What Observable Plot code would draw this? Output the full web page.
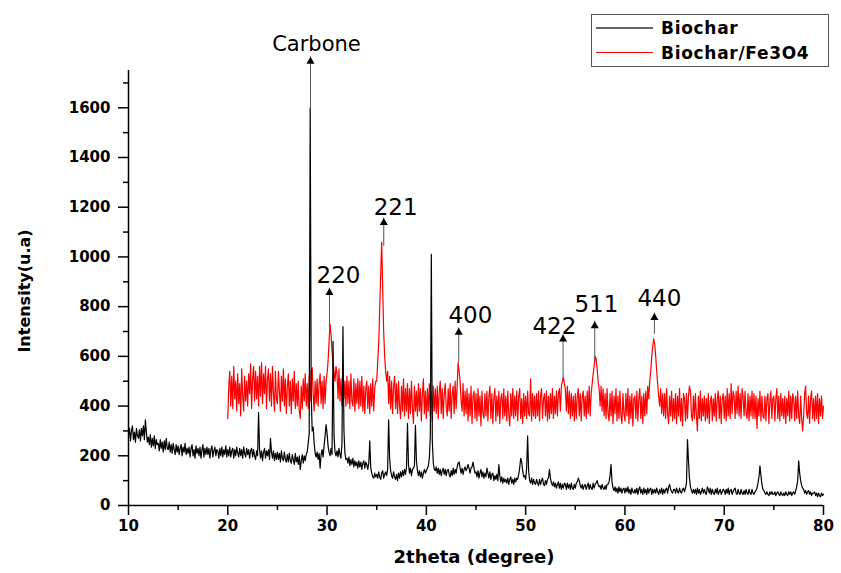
<!DOCTYPE html>
<html>
<head>
<meta charset="utf-8">
<script src="https://cdn.jsdelivr.net/npm/d3@7"></script>
<script src="https://cdn.jsdelivr.net/npm/@observablehq/plot@0.6"></script>
<style>
  html, body { margin: 0; padding: 0; background: #fff; }
  #wrap { position: relative; width: 841px; height: 573px; overflow: hidden; }
  .legend { position: absolute; left: 591px; top: 14px; width: 236px; height: 51px;
    border: 1px solid #555; background: #fff; font: bold 17px "DejaVu Sans", sans-serif;
    letter-spacing: 0.7px; color: #000; }
  .legend .row { display: flex; align-items: center; height: 25px; }
  .legend .sw { display: inline-block; width: 57px; margin-left: 4px; margin-right: 8px; height: 0; }
</style>
</head>
<body>
<div id="wrap"><div id="chart"></div></div>
<script>
// ---------- data ----------
const seriesNames = ["Biochar", "Biochar/Fe3O4"];
const seriesColors = ["#000000", "#ff0000"];
const legendColors = ["#666666", "#ff0000"];

const xMajorTicks = [10, 20, 30, 40, 50, 60, 70, 80];
const xMinorTicks = [15, 25, 35, 45, 55, 65, 75];
const yMajorTicks = [0, 200, 400, 600, 800, 1000, 1200, 1400, 1600];
const yMinorTicks = [100, 300, 500, 700, 900, 1100, 1300, 1500, 1700];

// Biochar: 2theta from 10.0 to 80.0, every 0.1 degree
const bioStart = 10.0, bioStep = 0.1;
const bioValues = [
280,310,260,300,320,265,295,255,310,280,
270,305,260,310,280,320,265,345,295,255,
275,245,285,235,270,240,280,230,265,245,
250,220,265,230,255,215,260,225,270,230,
225,255,215,245,210,250,225,205,245,215,
240,205,230,245,200,235,215,250,205,230,
210,235,195,230,245,200,225,190,240,210,
230,200,235,190,225,245,195,230,205,235,
205,230,190,225,240,195,220,235,200,225,
220,190,230,200,235,195,225,205,240,195,
225,200,235,195,220,230,190,225,200,235,
210,195,230,200,225,190,235,210,195,230,
205,225,190,220,230,195,225,200,185,220,
200,375,225,190,220,180,215,230,190,220,
200,225,185,270,215,190,220,180,210,185,
215,185,210,175,220,190,180,215,185,175,
205,175,210,180,170,205,185,165,210,175,
195,165,200,145,180,205,170,200,180,205,
215,250,290,1600,450,300,315,250,210,195,
215,185,210,150,205,225,195,240,280,325,
290,240,215,200,230,205,660,280,215,200,
220,195,230,205,190,250,720,300,210,185,
190,170,195,160,185,165,190,155,180,160,
175,150,180,155,175,145,170,180,150,175,
165,145,170,260,150,130,115,110,130,115,
125,110,135,115,105,130,140,110,125,135,
120,145,345,190,140,120,110,135,115,105,
125,100,130,110,135,115,140,120,145,125,
155,330,165,130,150,120,145,150,160,322,
180,140,120,140,115,135,110,130,145,130,
140,150,160,190,280,1010,260,170,145,140,
155,130,150,125,145,120,140,150,125,145,
120,140,145,125,115,140,120,150,125,145,
130,155,170,175,150,130,150,125,145,155,
140,150,165,150,130,150,155,175,150,130,
135,115,140,110,130,145,115,135,110,130,
115,150,130,110,135,105,125,130,100,120,
105,125,100,165,120,95,115,90,110,95,
105,90,110,85,105,115,90,105,85,110,
95,110,105,125,150,190,175,140,115,120,
105,150,280,140,100,90,110,85,105,90,
85,105,90,80,105,85,100,110,85,80,
100,85,105,110,145,110,90,80,95,75,
90,70,85,95,70,90,65,85,70,90,
85,65,90,70,85,65,90,70,65,85,
70,90,95,110,100,80,70,85,65,80,
85,65,80,90,65,85,70,65,90,70,
85,90,100,85,75,80,65,85,70,65,
80,65,85,85,95,120,165,95,70,60,
75,55,70,50,75,55,70,50,65,70,
50,70,55,75,50,65,45,70,55,50,
65,50,70,45,65,75,50,65,45,70,
50,65,45,70,50,65,70,45,65,50,
65,50,70,55,45,65,50,70,45,65,
50,65,70,50,75,85,65,55,50,65,
65,50,70,55,50,70,55,50,65,70,
55,70,90,265,180,110,75,60,50,65,
50,65,45,70,50,65,45,55,70,50,
65,50,45,75,65,50,70,45,65,50,
45,65,50,70,45,55,65,45,55,65,
60,45,65,50,70,45,60,65,45,55,
65,70,50,45,65,50,45,65,50,45,
60,45,65,50,45,65,50,45,65,50,
45,55,60,70,90,115,160,120,85,65,
60,50,45,55,45,40,55,45,55,45,
45,55,40,50,55,45,40,55,45,40,
50,40,55,45,40,55,45,55,40,50,
55,45,60,75,100,180,130,100,80,70,
65,50,60,45,55,60,45,55,40,50,
50,55,40,50,35,50,40,35,50,40,
45
];

// Biochar/Fe3O4: 2theta from 20.0 to 80.0, every 0.1 degree
const feStart = 20.0, feStep = 0.1;
const feValues = [
350,480,540,400,520,390,560,430,500,380,
530,410,490,360,550,440,380,520,420,500,
400,530,450,570,390,510,560,420,540,430,
520,400,560,440,575,410,530,450,560,390,
510,550,420,530,400,560,450,380,540,430,
410,540,460,380,520,420,550,400,510,370,
480,530,400,500,370,510,420,540,390,490,
400,500,380,350,480,390,510,420,530,400,
490,390,520,420,540,555,450,380,500,410,
510,400,490,530,410,500,390,520,410,500,
530,580,660,730,690,620,580,540,500,560,
530,430,550,420,510,400,530,430,500,400,
520,410,500,390,530,420,400,510,380,490,
410,510,390,500,400,520,380,480,370,470,
500,390,480,370,490,400,510,380,470,500,
500,580,650,790,930,1060,880,700,600,540,
500,540,410,520,390,500,370,480,520,390,
490,370,500,400,350,480,380,510,360,470,
380,490,350,470,370,500,390,330,480,380,
460,360,490,380,470,340,450,510,370,460,
350,470,380,490,360,460,340,480,380,470,
370,480,350,460,500,370,470,350,450,490,
400,360,470,380,490,350,450,480,370,500,
390,480,575,540,500,420,380,490,360,460,
370,470,340,450,360,480,330,440,460,350,
450,340,470,360,440,320,460,370,350,450,
360,460,340,440,480,350,450,330,430,470,
340,440,360,460,330,430,450,350,470,360,
440,340,460,370,320,450,360,470,350,440,
360,460,340,440,470,350,430,330,450,360,
440,350,460,370,360,510,340,450,360,440,
350,450,360,460,340,440,470,350,430,450,
360,460,340,440,350,450,370,470,350,440,
370,460,360,450,470,380,480,500,515,490,
470,380,480,370,460,350,450,360,440,340,
450,350,440,470,360,450,340,440,460,360,
440,350,460,370,480,360,450,490,530,560,
600,590,550,500,470,400,480,380,470,360,
450,350,470,370,340,450,360,460,330,440,
370,470,340,440,350,460,360,330,450,370,
340,450,360,470,330,440,350,450,320,430,
440,350,460,340,430,470,350,440,330,450,
360,460,370,480,430,500,540,600,640,670,
650,600,540,490,440,400,470,370,450,360,
450,350,470,370,330,440,360,460,340,430,
350,450,330,440,360,470,340,430,320,450,
430,340,450,350,440,480,460,360,340,440,
350,450,360,300,440,350,460,340,430,360,
440,340,430,350,450,330,420,440,340,430,
360,450,340,430,460,350,440,330,430,450,
350,440,340,470,360,450,350,490,370,460,
440,350,460,370,480,360,450,350,470,440,
360,460,370,350,450,340,440,360,460,350,
450,350,440,310,430,360,460,340,440,360,
350,440,340,430,450,330,420,460,350,430,
440,340,430,470,350,440,340,450,360,430,
350,440,330,430,360,460,340,440,350,450,
430,340,440,350,460,360,330,440,350,300,
360,450,480,370,350,440,330,430,460,350,
430,340,440,350,450,330,430,360,440,350,
400
];

// Peak annotations (2theta, intensity)
const peakLabels = ["Carbone", "220", "221", "400", "422", "511", "440"];
const peakArrowX = [28.33, 30.24, 35.71, 43.26, 53.77, 56.96, 62.97];
const peakArrowFrom = [1600, 716, 1044, 575, 510, 582, 690];
const peakArrowTo = [1807, 876, 1158, 716, 689, 743, 776];
const peakLabelX = [28.93, 31.15, 36.9, 44.44, 52.9, 57.13, 63.47];
const peakLabelY = [1827, 897, 1169, 736, 690, 780, 803];

const xTitle = "2theta (degree)";
const yTitle = "Intensity(u.a)";

// ---------- build tables ----------
const bio = bioValues.map((v, i) => ({theta: bioStart + i * bioStep, I: v}));
const fe = feValues.map((v, i) => ({theta: feStart + i * feStep, I: v}));
const peaks = peakLabels.map((t, i) => ({
  label: t, ax: peakArrowX[i], y1: peakArrowFrom[i], y2: peakArrowTo[i],
  lx: peakLabelX[i], ly: peakLabelY[i]
}));

const chart = Plot.plot({
  width: 841,
  height: 573,
  marginLeft: 128,
  marginRight: 18,
  marginTop: 70,
  marginBottom: 68,
  style: {fontFamily: "'DejaVu Sans', sans-serif", fontSize: "15px", fontWeight: "bold", background: "#fff", color: "#000"},
  x: {domain: [10, 80], label: null},
  y: {domain: [0, 1750], label: null},
  marks: [
    Plot.axisX(xMajorTicks, {tickSize: 10, tickPadding: 5, strokeWidth: 1.5, tickFormat: "d", label: null}),
    Plot.axisX(xMinorTicks, {tickSize: 5, strokeWidth: 1.5, tickFormat: () => "", label: null}),
    Plot.axisY(yMajorTicks, {tickSize: 10, tickPadding: 8, strokeWidth: 1.5, tickFormat: "d", label: null}),
    Plot.axisY(yMinorTicks, {tickSize: 5, strokeWidth: 1.5, tickFormat: () => "", label: null}),
    Plot.line(fe, {x: "theta", y: "I", stroke: seriesColors[1], strokeWidth: 1.2}),
    Plot.line(bio, {x: "theta", y: "I", stroke: seriesColors[0], strokeWidth: 1.2}),
    Plot.ruleX([10], {stroke: "#000", strokeWidth: 1.5}),
    Plot.ruleY([0], {stroke: "#000", strokeWidth: 1.5}),
    Plot.link(peaks, {x1: "ax", x2: "ax", y1: "y1", y2: "y2", stroke: "#555", strokeWidth: 1}),
    Plot.dot(peaks, {x: "ax", y: "y2", symbol: "triangle", r: 3, fill: "#000", stroke: "none", dy: 5}),
    Plot.text(peaks.filter(d => d.label === "Carbone"), {x: "lx", y: "ly", text: "label", textAnchor: "middle", lineAnchor: "bottom", fontSize: 21, fontWeight: "normal", fill: "#000"}),
    Plot.text(peaks.filter(d => d.label !== "Carbone"), {x: "lx", y: "ly", text: "label", textAnchor: "middle", lineAnchor: "bottom", fontSize: 23, fontWeight: "normal", fill: "#000"}),
    Plot.text([xTitle], {frameAnchor: "bottom", dy: 52, dx: -2, lineAnchor: "middle", textAnchor: "middle", fontSize: 18, fontWeight: "bold", fill: "#000"}),
    Plot.text([yTitle], {frameAnchor: "left", dx: -104, dy: 3, rotate: -90, lineAnchor: "middle", textAnchor: "middle", fontSize: 16, fontWeight: "bold", fill: "#000"})
  ]
});
document.getElementById("chart").appendChild(chart);

// legend
const legend = document.createElement("div");
legend.className = "legend";
seriesNames.forEach((name, i) => {
  const row = document.createElement("div");
  row.className = "row";
  const sw = document.createElement("span");
  sw.className = "sw";
  sw.style.borderTop = (i === 0 ? "2px" : "1.5px") + " solid " + legendColors[i];
  const t = document.createElement("span");
  t.textContent = name;
  row.appendChild(sw);
  row.appendChild(t);
  legend.appendChild(row);
});
document.getElementById("wrap").appendChild(legend);
</script>
</body>
</html>
